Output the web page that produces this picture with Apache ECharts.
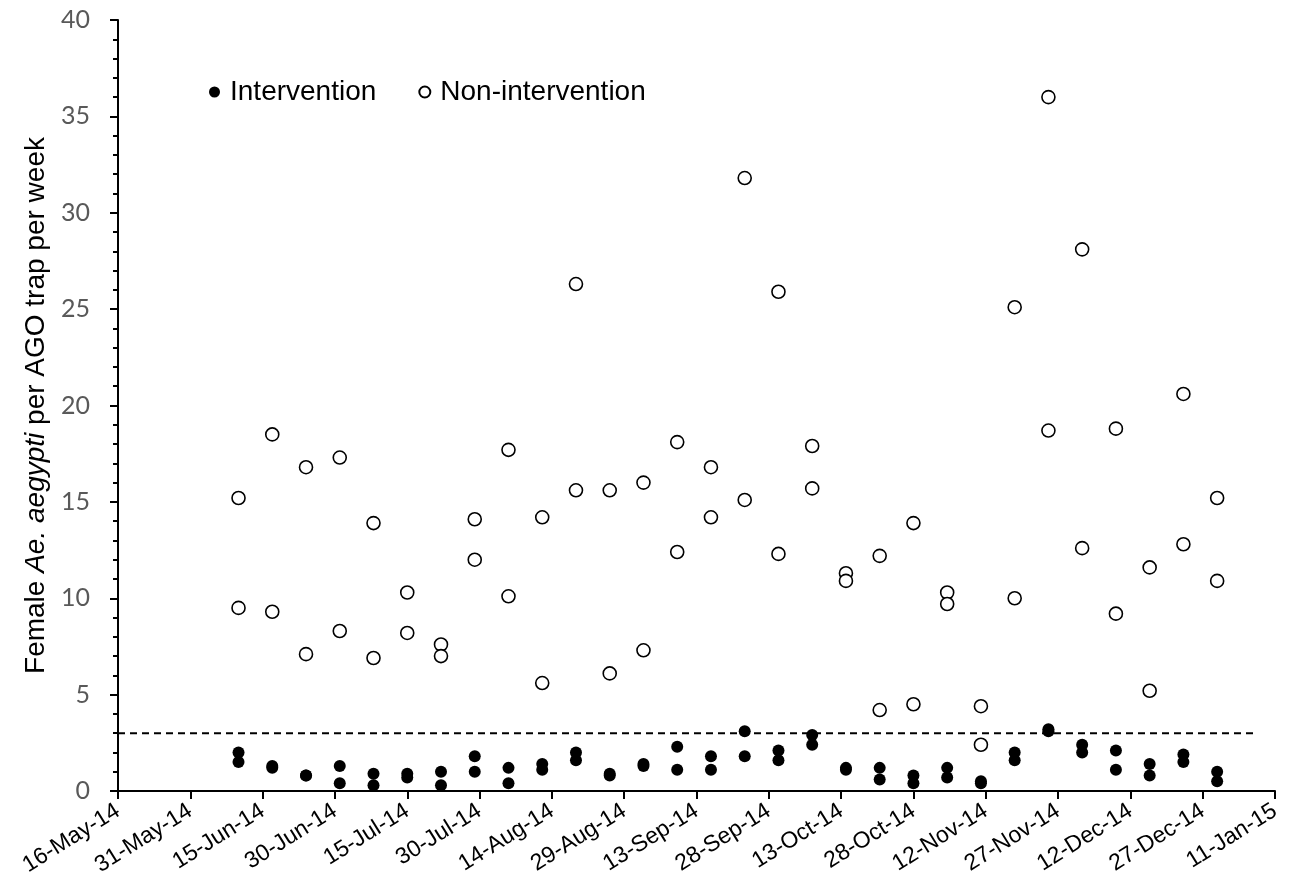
<!DOCTYPE html>
<html>
<head>
<meta charset="utf-8">
<script src="https://cdn.jsdelivr.net/npm/echarts@6/dist/echarts.min.js"></script>
<style>html,body{margin:0;padding:0;background:#fff}#c{width:1298px;height:895px}</style>
</head>
<body>
<div id="c"></div>
<script>
// Weekly sampling dates
const dates = ['2014-06-10','2014-06-17','2014-06-24','2014-07-01','2014-07-08','2014-07-15','2014-07-22','2014-07-29',
  '2014-08-05','2014-08-12','2014-08-19','2014-08-26','2014-09-02','2014-09-09','2014-09-16','2014-09-23','2014-09-30',
  '2014-10-07','2014-10-14','2014-10-21','2014-10-28','2014-11-04','2014-11-11','2014-11-18','2014-11-25',
  '2014-12-02','2014-12-09','2014-12-16','2014-12-23','2014-12-30'];
// Intervention (two values per week)
const intervention1 = [2.0,1.3,0.8,1.3,0.9,0.9,1.0,1.8,1.2,1.4,2.0,0.9,1.4,2.3,1.8,3.1,2.1,2.9,1.2,1.2,0.8,1.2,0.5,2.0,3.2,2.4,2.1,1.4,1.9,1.0];
const intervention2 = [1.5,1.2,0.8,0.4,0.3,0.7,0.3,1.0,0.4,1.1,1.6,0.8,1.3,1.1,1.1,1.8,1.6,2.4,1.1,0.6,0.4,0.7,0.4,1.6,3.1,2.0,1.1,0.8,1.5,0.5];
// Non-intervention (two values per week)
const nonIntervention1 = [15.2,18.5,16.8,17.3,13.9,10.3,7.6,14.1,17.7,14.2,26.3,15.6,16.0,18.1,16.8,31.8,25.9,17.9,11.3,12.2,13.9,10.3,4.4,25.1,36.0,28.1,18.8,11.6,20.6,15.2];
const nonIntervention2 = [9.5,9.3,7.1,8.3,6.9,8.2,7.0,12.0,10.1,5.6,15.6,6.1,7.3,12.4,14.2,15.1,12.3,15.7,10.9,4.2,4.5,9.7,2.4,10.0,18.7,12.6,9.2,5.2,12.8,10.9];
// Threshold line
const thresholdValue = 3;
const thresholdStart = '2014-05-16';
const thresholdEnd = '2015-01-07';
// Axis
const axisStart = '2014-05-16';
const axisEnd = '2015-01-11';
const monthNames = ['Jan','Feb','Mar','Apr','May','Jun','Jul','Aug','Sep','Oct','Nov','Dec'];

const DAY = 86400000;
function ms(s){ const p = s.split('-').map(Number); return Date.UTC(p[0], p[1]-1, p[2]); }
const base = ms(axisStart);
function dayOf(s){ return Math.round((ms(s) - base) / DAY); }
function fmt(d){
  const t = new Date(base + d * DAY);
  return t.getUTCDate() + '-' + monthNames[t.getUTCMonth()] + '-' + String(t.getUTCFullYear()).slice(2);
}
function pairs(vals){ return dates.map((d,i)=>[dayOf(d), vals[i]]); }

const chart = echarts.init(document.getElementById('c'));
chart.setOption({
  animation: false,
  backgroundColor: '#fff',
  grid: { left: 118, right: 23, top: 20, bottom: 104 },
  legend: {
    data: ['Intervention', 'Non-intervention'],
    left: 204, top: 73,
    icon: 'circle',
    itemWidth: 11, itemHeight: 11, itemGap: 42,
    textStyle: { fontFamily: 'Liberation Sans', fontSize: 28, color: '#000', padding: [0,0,0,5] }
  },
  xAxis: {
    type: 'value',
    min: 0, max: dayOf(axisEnd), interval: 15,
    axisLine: { lineStyle: { color: '#000', width: 2 } },
    axisTick: { length: 8, lineStyle: { color: '#000', width: 2 } },
    splitLine: { show: false },
    axisLabel: {
      rotate: 32, fontSize: 23, color: '#000', fontFamily: 'Liberation Sans', margin: 18,
      formatter: v => fmt(v)
    }
  },
  yAxis: {
    type: 'value',
    min: 0, max: 40, interval: 5,
    name: '{n|Female }{i|Ae. aegypti}{n| per AGO trap per week}',
    nameLocation: 'middle', nameGap: 61,
    nameTextStyle: {
      rich: {
        n: { fontFamily: 'Liberation Sans', fontSize: 28, color: '#000' },
        i: { fontFamily: 'Liberation Sans', fontSize: 28, color: '#000', fontStyle: 'italic' }
      }
    },
    axisLine: { show: true, lineStyle: { color: '#000', width: 2 } },
    axisTick: { show: true, length: 8, lineStyle: { color: '#000', width: 2 } },
    minorTick: { show: true, splitNumber: 5, length: 5, lineStyle: { color: '#000', width: 2 } },
    splitLine: { show: false },
    axisLabel: { fontSize: 25, color: '#595959', fontFamily: 'Lato', margin: 28 }
  },
  series: [
    {
      name: 'Threshold', type: 'line', symbol: 'none', silent: true,
      data: [[dayOf(thresholdStart), thresholdValue], [dayOf(thresholdEnd), thresholdValue]],
      lineStyle: { color: '#000', width: 2, type: [7, 5] }, z: 1
    },
    {
      name: 'Non-intervention', type: 'scatter', symbol: 'circle', symbolSize: 13,
      data: pairs(nonIntervention1).concat(pairs(nonIntervention2)),
      itemStyle: { color: '#fff', borderColor: '#000', borderWidth: 1.6, opacity: 1 }, z: 3
    },
    {
      name: 'Intervention', type: 'scatter', symbol: 'circle', symbolSize: 12,
      data: pairs(intervention1).concat(pairs(intervention2)),
      itemStyle: { color: '#000', opacity: 1 }, z: 4
    }
  ]
});
</script>
</body>
</html>
